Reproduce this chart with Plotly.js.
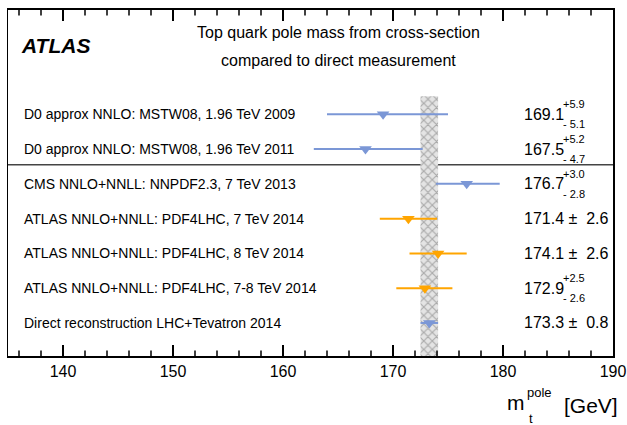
<!DOCTYPE html>
<html>
<head>
<meta charset="utf-8">
<script src="https://cdn.plot.ly/plotly-3.0.1.min.js"></script>
<style>
  html, body { margin: 0; padding: 0; background: #fff; }
  #chart { width: 627px; height: 425px; }
</style>
</head>
<body>
<div id="chart"></div>
<script>
// ---- data ----
var labels = [
  "D0 approx NNLO: MSTW08, 1.96 TeV 2009",
  "D0 approx NNLO: MSTW08, 1.96 TeV 2011",
  "CMS NNLO+NNLL: NNPDF2.3, 7 TeV 2013",
  "ATLAS NNLO+NNLL: PDF4LHC, 7 TeV 2014",
  "ATLAS NNLO+NNLL: PDF4LHC, 8 TeV 2014",
  "ATLAS NNLO+NNLL: PDF4LHC, 7-8 TeV 2014",
  "Direct reconstruction LHC+Tevatron 2014"
];
var masses   = [169.1, 167.5, 176.7, 171.4, 174.1, 172.9, 173.3];
var errPlus  = [5.9, 5.2, 3.0, 2.6, 2.6, 2.5, 0.8];
var errMinus = [5.1, 4.7, 2.8, 2.6, 2.6, 2.6, 0.8];
var groups   = ["blue", "blue", "blue", "orange", "orange", "orange", "blue"];
var rowY     = [7, 6, 5, 4, 3, 2, 1];
var tickVals = [140, 150, 160, 170, 180, 190];
var minorTickVals = [136, 138, 142, 144, 146, 148, 152, 154, 156, 158, 162, 164, 166, 168,
                     172, 174, 176, 178, 182, 184, 186, 188];
var directIndex = 6;

var colors = { blue: "#7b97d6", orange: "#ffa500" };
var FONT = "Liberation Sans, Arial, Helvetica, sans-serif";
var yRange = [0.05, 10];
var minorLen = 0.16;   // minor tick length in y units (~5.5px)

// ---- band of the direct measurement ----
var bLo = masses[directIndex] - errMinus[directIndex];
var bHi = masses[directIndex] + errPlus[directIndex];
var yTop = 7.52;
var traces = [{
  type: "scatter", mode: "lines",
  x: [bLo, bHi, bHi, bLo, bLo],
  y: [yRange[0], yRange[0], yTop, yTop, yRange[0]],
  fill: "toself",
  fillcolor: "#c8c8c8",
  fillpattern: { shape: "x", size: 6, solidity: 0.35, bgcolor: "#e4e4e4", fgcolor: "#aaaaaa", fillmode: "replace" },
  line: { width: 0, color: "rgba(0,0,0,0)" },
  hoverinfo: "skip", showlegend: false
}];

// ---- minor inside tick marks (bottom and mirrored top) drawn on the x scale ----
function tickTrace(vals, len, atTop) {
  return {
    type: "scatter", mode: "markers", cliponaxis: false,
    x: vals, y: vals.map(function () { return atTop ? yRange[1] : yRange[0]; }),
    marker: { size: 1, color: "rgba(0,0,0,0)" },
    error_y: { type: "data", symmetric: false,
      array: vals.map(function () { return atTop ? 0 : len; }),
      arrayminus: vals.map(function () { return atTop ? len : 0; }),
      width: 0, thickness: 1.5, color: "#000" },
    hoverinfo: "skip", showlegend: false
  };
}
traces.push(tickTrace(minorTickVals, minorLen, false));
traces.push(tickTrace(minorTickVals, minorLen, true));

// ---- measurement points ----
["blue", "orange"].forEach(function (g) {
  var xs = [], ys = [], ep = [], em = [];
  for (var i = 0; i < masses.length; i++) {
    if (groups[i] === g) { xs.push(masses[i]); ys.push(rowY[i]); ep.push(errPlus[i]); em.push(errMinus[i]); }
  }
  traces.push({
    type: "scatter", mode: "markers",
    x: xs, y: ys,
    marker: { symbol: "triangle-down", size: 11, color: colors[g] },
    error_x: { type: "data", symmetric: false, array: ep, arrayminus: em, width: 0, thickness: 2, color: colors[g] },
    showlegend: false, hoverinfo: "x"
  });
});

// ---- annotations ----
var ann = [];
for (var i = 0; i < labels.length; i++) {
  ann.push({ xref: "paper", yref: "y", x: 0.023, y: rowY[i], xanchor: "left", yanchor: "middle",
    text: labels[i], showarrow: false, font: { family: FONT, size: 14, color: "#000" } });
  var v = masses[i].toFixed(1);
  if (errPlus[i] === errMinus[i]) {
    ann.push({ xref: "paper", yref: "y", x: 0.8496, y: rowY[i], xanchor: "left", yanchor: "middle",
      text: v + " \u00b1  " + errPlus[i].toFixed(1), showarrow: false, font: { family: FONT, size: 16, color: "#000" } });
  } else {
    ann.push({ xref: "paper", yref: "y", x: 0.8496, y: rowY[i], xanchor: "left", yanchor: "middle",
      text: v, showarrow: false, font: { family: FONT, size: 16, color: "#000" } });
    ann.push({ xref: "paper", yref: "y", x: 0.9145, y: rowY[i], yshift: 10, xanchor: "left", yanchor: "middle",
      text: "+" + errPlus[i].toFixed(1), showarrow: false, font: { family: FONT, size: 11, color: "#000" } });
    ann.push({ xref: "paper", yref: "y", x: 0.9145, y: rowY[i], yshift: -10, xanchor: "left", yanchor: "middle",
      text: "- " + errMinus[i].toFixed(1), showarrow: false, font: { family: FONT, size: 11, color: "#000" } });
  }
}
// ATLAS label and title
ann.push({ xref: "paper", yref: "paper", x: 0.018, y: 0.897, xanchor: "left", yanchor: "middle",
  text: "<b><i>ATLAS</i></b>", showarrow: false, font: { family: FONT, size: 21, color: "#000" } });
ann.push({ xref: "paper", yref: "paper", x: 0.547, y: 0.934, xanchor: "center", yanchor: "middle",
  text: "Top quark pole mass from cross-section", showarrow: false, font: { family: FONT, size: 16, color: "#000" } });
ann.push({ xref: "paper", yref: "paper", x: 0.547, y: 0.855, xanchor: "center", yanchor: "middle",
  text: "compared to direct measurement", showarrow: false, font: { family: FONT, size: 16, color: "#000" } });
// axis title m_t^pole [GeV]
ann.push({ xref: "paper", yref: "paper", x: 0.8215, y: -0.1358, xanchor: "left", yanchor: "middle",
  text: "m", showarrow: false, font: { family: FONT, size: 21, color: "#000" } });
ann.push({ xref: "paper", yref: "paper", x: 0.8545, y: -0.1069, xanchor: "left", yanchor: "middle",
  text: "pole", showarrow: false, font: { family: FONT, size: 13, color: "#000" } });
ann.push({ xref: "paper", yref: "paper", x: 0.858, y: -0.1792, xanchor: "left", yanchor: "middle",
  text: "t", showarrow: false, font: { family: FONT, size: 13, color: "#000" } });
ann.push({ xref: "paper", yref: "paper", x: 0.9157, y: -0.1445, xanchor: "left", yanchor: "middle",
  text: "[GeV]", showarrow: false, font: { family: FONT, size: 21, color: "#000" } });

var layout = {
  width: 627, height: 425,
  margin: { l: 8, r: 14, t: 10, b: 69, pad: 0 },
  paper_bgcolor: "#fff", plot_bgcolor: "#fff",
  showlegend: false,
  font: { family: FONT, color: "#000" },
  xaxis: {
    range: [135, 190], tickmode: "array", tickvals: tickVals, ticktext: tickVals.map(String),
    ticks: "inside", ticklen: 11, tickwidth: 1.5, tickcolor: "#000",
    showline: true, linecolor: "#000", linewidth: 2, mirror: "ticks",
    showgrid: false, zeroline: false,
    tickfont: { family: FONT, size: 16, color: "#000" }
  },
  yaxis: {
    range: yRange, showticklabels: false, ticks: "",
    showline: true, linecolor: "#000", linewidth: 1.5, mirror: true,
    showgrid: false, zeroline: false
  },
  shapes: [{
    type: "line", xref: "paper", yref: "y", x0: 0, x1: 1, y0: 5.55, y1: 5.55,
    line: { color: "#444", width: 1.3 }, layer: "below"
  }],
  annotations: ann
};

Plotly.newPlot("chart", traces, layout, { displayModeBar: false, staticPlot: true });
</script>
</body>
</html>
